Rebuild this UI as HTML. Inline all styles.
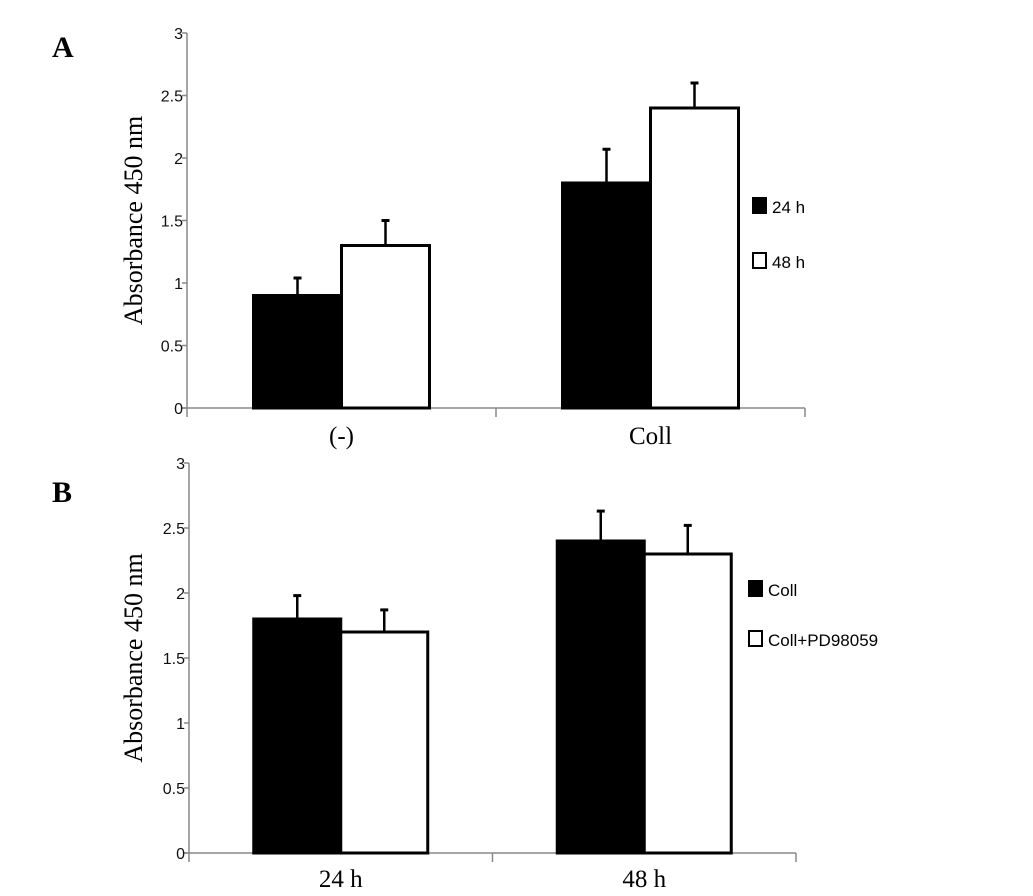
<!DOCTYPE html>
<html><head><meta charset="utf-8"><style>
body{margin:0;background:#fff;}
svg{display:block;}
.tk{font-family:"Liberation Sans",sans-serif;font-size:16px;fill:#111;}
.ser{font-family:"Liberation Serif",serif;}
.lg{font-family:"Liberation Sans",sans-serif;font-size:17px;}
</style></head><body>
<svg id="chart" width="1033" height="896" viewBox="0 0 1033 896" xmlns="http://www.w3.org/2000/svg">
<text class="ser" x="52" y="57" font-size="30" font-weight="bold">A</text>
<text class="ser" x="52" y="502" font-size="30" font-weight="bold">B</text>
</svg>
<script>
const catsA = ["(-)", "Coll"];
const seriesA = ["24 h", "48 h"];
const valsA1 = [0.9, 1.8];
const valsA2 = [1.3, 2.4];
const errA1 = [0.14, 0.27];
const errA2 = [0.2, 0.2];
const catsB = ["24 h", "48 h"];
const seriesB = ["Coll", "Coll+PD98059"];
const valsB1 = [1.8, 2.4];
const valsB2 = [1.7, 2.3];
const errB1 = [0.18, 0.23];
const errB2 = [0.17, 0.22];
const ticks = [0, 0.5, 1, 1.5, 2, 2.5, 3];
const tickLabels = ["0", "0.5", "1", "1.5", "2", "2.5", "3"];

const svg = document.getElementById('chart');
const NS = 'http://www.w3.org/2000/svg';
function mk(tag, attrs, parent){const e=document.createElementNS(NS,tag);for(const k in attrs)e.setAttribute(k,attrs[k]);(parent||svg).appendChild(e);return e;}

function panel(p, cats, series, v1, v2, e1, e2, key){
  const g = mk('g', {});
  
  
  const y = v => p.y0 - (p.y0 - p.y3) * v / 3;
  const groupW = (p.xEnd - p.x0) / cats.length;
  const bw = p.bw;
  const ya = mk('line', {x1:p.x0,y1:p.y3,x2:p.x0,y2:p.y0,stroke:'#888','stroke-width':1.5}, g);
  
  
  const xa = mk('line', {x1:p.x0-5,y1:p.y0,x2:p.xEnd,y2:p.y0,stroke:'#888','stroke-width':1.5}, g);
  
  
  for (let i = 0; i <= cats.length; i++) {
    const x = p.x0 + groupW * i;
    mk('line', {x1:x,y1:p.y0,x2:x,y2:p.y0+9,stroke:'#888','stroke-width':1.5}, g);
  }
  ticks.forEach((t, i) => {
    mk('line', {x1:p.x0-5,y1:y(t),x2:p.x0,y2:y(t),stroke:'#888','stroke-width':1.5}, g);
    const tx = mk('text', {x:p.x0-4,y:y(t)+6,'text-anchor':'end',class:'tk'}, g);
    tx.textContent = tickLabels[i];
    
    
  });
  const title = mk('text', {x:0,y:0,class:'ser','font-size':26,'text-anchor':'middle',transform:`translate(${p.tx},${(p.y0+p.y3)/2}) rotate(-90)`}, g);
  title.textContent = 'Absorbance 450 nm';
  
  
  cats.forEach((c, i) => {
    const cx = p.x0 + groupW * (i + 0.5);
    [[v1, e1, '#000'], [v2, e2, '#fff']].forEach((s, j) => {
      const x = cx - bw + j * bw;
      const top = y(s[0][i] + s[1][i]);
      const el = mk('line', {x1:x+bw/2,y1:y(s[0][i]),x2:x+bw/2,y2:top,stroke:'#000','stroke-width':2.5}, g);
      
      
      mk('line', {x1:x+bw/2-4,y1:top,x2:x+bw/2+4,y2:top,stroke:'#000','stroke-width':3}, g);
      const r = mk('rect', {x:x,y:y(s[0][i]),width:bw,height:p.y0-y(s[0][i]),fill:s[2],stroke:'#000','stroke-width':3}, g);
      
      
    });
    const lab = mk('text', {x:cx,y:p.labY,class:'ser','font-size':25,'text-anchor':'middle'}, g);
    lab.textContent = c;
    
    
  });
  series.forEach((s, j) => {
    const ly = p.legY + j * p.legGap;
    const sq = mk('rect', {x:p.legX,y:ly,width:13,height:15,fill:j?'#fff':'#000',stroke:'#000','stroke-width':2}, g);
    
    
    const lt = mk('text', {x:p.legX+19,y:ly+15,class:'lg'}, g);
    lt.textContent = s;
    
    
  });
}
panel({x0:187,xEnd:805,y0:408,y3:33,bw:88,tx:142,labY:444,legX:753,legY:198,legGap:55}, catsA, seriesA, valsA1, valsA2, errA1, errA2, 'a');
panel({x0:189,xEnd:796,y0:853,y3:463,bw:87,tx:142,labY:887,legX:749,legY:581,legGap:50}, catsB, seriesB, valsB1, valsB2, errB1, errB2, 'b');
</script>
</body></html>
